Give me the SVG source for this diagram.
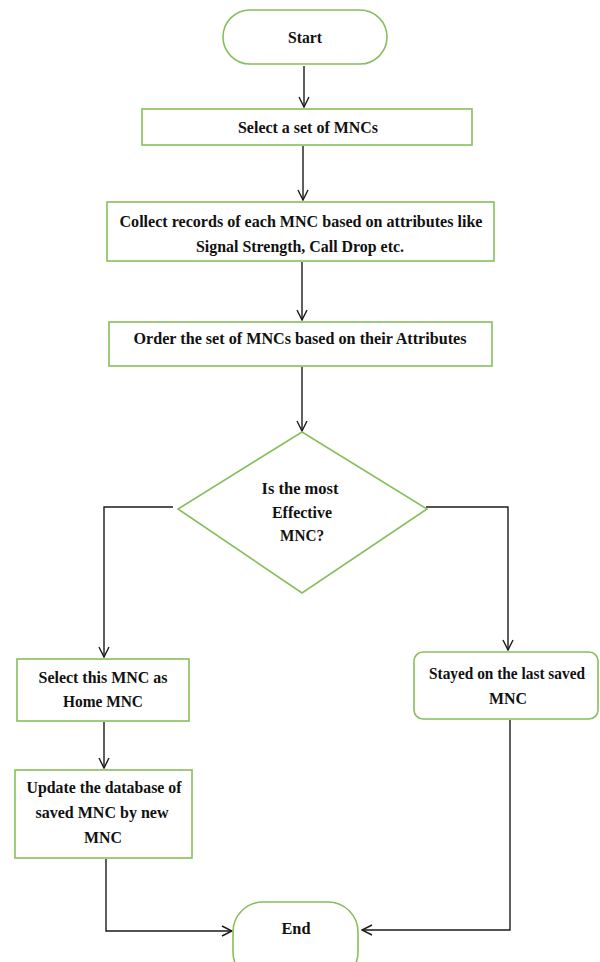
<svg xmlns="http://www.w3.org/2000/svg" width="600" height="962" viewBox="0 0 600 962">
  <style>
    .box { fill: #ffffff; stroke: #86bf5c; stroke-width: 1.6; }
    .lbl { font-family: "Liberation Serif", "Times New Roman", serif; font-weight: bold; font-size: 17px; fill: #111111; text-anchor: middle; dominant-baseline: central; }
    .wire { fill: none; stroke: #1a1a1a; stroke-width: 1.4; }
  </style>
  <defs>
    <marker id="arrow" viewBox="0 0 12 12" refX="11" refY="6" markerWidth="12" markerHeight="12" markerUnits="userSpaceOnUse" orient="auto">
      <path d="M1,1 L11,6 L1,11" fill="none" stroke="#1a1a1a" stroke-width="1.4"/>
    </marker>
  </defs>
  <rect width="600" height="962" fill="#ffffff"/>

  <!-- connectors -->
  <g id="connectors">
    <line class="wire" x1="304" y1="66" x2="304" y2="107" marker-end="url(#arrow)"/>
    <line class="wire" x1="303" y1="146" x2="303" y2="200" marker-end="url(#arrow)"/>
    <line class="wire" x1="302" y1="262" x2="302" y2="320" marker-end="url(#arrow)"/>
    <line class="wire" x1="302" y1="367" x2="302" y2="431" marker-end="url(#arrow)"/>
    <polyline class="wire" points="173,507 104,507 104,657" marker-end="url(#arrow)"/>
    <polyline class="wire" points="426,507 508,507 508,650" marker-end="url(#arrow)"/>
    <line class="wire" x1="104" y1="722" x2="104" y2="768" marker-end="url(#arrow)"/>
    <polyline class="wire" points="106,859 106,931 232,931" marker-end="url(#arrow)"/>
    <polyline class="wire" points="510,720 510,930 362,930" marker-end="url(#arrow)"/>
  </g>

  <g id="start">
    <rect class="box" x="223" y="10" width="164" height="54" rx="27" ry="27"/>
    <text class="lbl" x="305" y="37" textLength="34" lengthAdjust="spacingAndGlyphs">Start</text>
  </g>

  <g id="select-set">
    <rect class="box" x="142" y="109" width="330" height="36"/>
    <text class="lbl" x="308" y="127" textLength="140" lengthAdjust="spacingAndGlyphs">Select a set of MNCs</text>
  </g>

  <g id="collect">
    <rect class="box" x="107" y="202" width="387" height="59"/>
    <text class="lbl" x="301" y="221" textLength="363" lengthAdjust="spacingAndGlyphs">Collect records of each MNC based on attributes like</text>
    <text class="lbl" x="300" y="246" textLength="208" lengthAdjust="spacingAndGlyphs">Signal Strength, Call Drop etc.</text>
  </g>

  <g id="order">
    <rect class="box" x="109" y="322" width="383" height="44"/>
    <text class="lbl" x="300" y="338" textLength="333" lengthAdjust="spacingAndGlyphs">Order the set of MNCs based on their Attributes</text>
  </g>

  <g id="decision">
    <polygon class="box" points="302,432 427,509 302,593 178,509"/>
    <text class="lbl" x="300" y="488" textLength="77" lengthAdjust="spacingAndGlyphs">Is the most</text>
    <text class="lbl" x="302" y="512" textLength="60" lengthAdjust="spacingAndGlyphs">Effective</text>
    <text class="lbl" x="302" y="535" textLength="44" lengthAdjust="spacingAndGlyphs">MNC?</text>
  </g>

  <g id="select-home">
    <rect class="box" x="17" y="659" width="172" height="62"/>
    <text class="lbl" x="103" y="677" textLength="129" lengthAdjust="spacingAndGlyphs">Select this MNC as</text>
    <text class="lbl" x="103" y="701" textLength="80" lengthAdjust="spacingAndGlyphs">Home MNC</text>
  </g>

  <g id="update-db">
    <rect class="box" x="15" y="770" width="177" height="88"/>
    <text class="lbl" x="104" y="787" textLength="155" lengthAdjust="spacingAndGlyphs">Update the database of</text>
    <text class="lbl" x="102" y="812" textLength="133" lengthAdjust="spacingAndGlyphs">saved MNC by new</text>
    <text class="lbl" x="103" y="837" textLength="38" lengthAdjust="spacingAndGlyphs">MNC</text>
  </g>

  <g id="stay">
    <rect class="box" x="414" y="652" width="184" height="67" rx="9" ry="9"/>
    <text class="lbl" x="507" y="673" textLength="156" lengthAdjust="spacingAndGlyphs">Stayed on the last saved</text>
    <text class="lbl" x="508" y="698" textLength="38" lengthAdjust="spacingAndGlyphs">MNC</text>
  </g>

  <g id="end">
    <rect class="box" x="233" y="902" width="125" height="80" rx="30" ry="30"/>
    <text class="lbl" x="296" y="928" textLength="29" lengthAdjust="spacingAndGlyphs">End</text>
  </g>
</svg>
